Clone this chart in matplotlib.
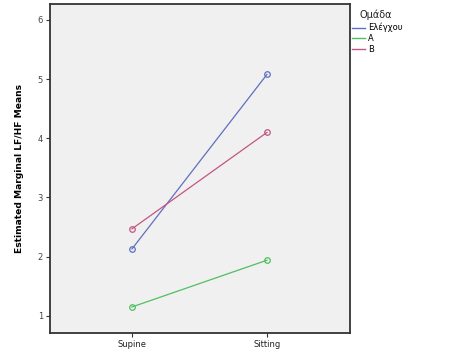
import matplotlib.pyplot as plt
from matplotlib.lines import Line2D

# data
conditions = ["Supine", "Sitting"]
groups = ["Ελέγχου", "A", "B"]
control = [2.13, 5.08]
group_a = [1.15, 1.94]
group_b = [2.47, 4.10]
colors = ["#5f6fc0", "#4fbf5f", "#c45585"]

fig = plt.figure(figsize=(4.51, 3.59), dpi=100)
ax = fig.add_axes([50 / 451, 1 - 333 / 359, 300 / 451, 329 / 359])
ax.set_facecolor("#f0f0f0")

x = list(range(len(conditions)))
for vals, c in zip([control, group_a, group_b], colors):
    ax.plot(x, vals, color=c, linewidth=0.9, marker="o", markersize=4,
            markerfacecolor="none", markeredgecolor=c, markeredgewidth=0.9)

ax.set_xlim(-0.607, 1.615)
ax.set_ylim(0.71, 6.27)
ax.set_xticks(x)
ax.set_xticklabels(conditions, fontsize=6, color="#222222")
ax.set_yticks([1, 2, 3, 4, 5, 6])
ax.set_yticklabels(["1", "2", "3", "4", "5", "6"], fontsize=6, color="#444444")
ax.tick_params(length=3, width=0.8, color="#333333", pad=2)
for s in ax.spines.values():
    s.set_color("#333333")
    s.set_linewidth(1.3)

ax.set_ylabel("Estimated Marginal LF/HF Means", fontsize=6.6, fontweight="bold",
              labelpad=10)

# legend: title placed by hand, entries below
fig.text(360 / 451, 1 - 15 / 359, "Ομάδα", fontsize=7, color="#222222",
         va="center", ha="left")
handles = [Line2D([0], [0], color=c, linewidth=1) for c in colors]
fig.legend(handles, groups, loc="upper left",
           bbox_to_anchor=(352 / 451, 1 - 23 / 359), frameon=False,
           fontsize=6, handlelength=1.55, handletextpad=0.4,
           labelspacing=0.18, borderpad=0, borderaxespad=0)

fig.savefig("out.png", dpi=100)
